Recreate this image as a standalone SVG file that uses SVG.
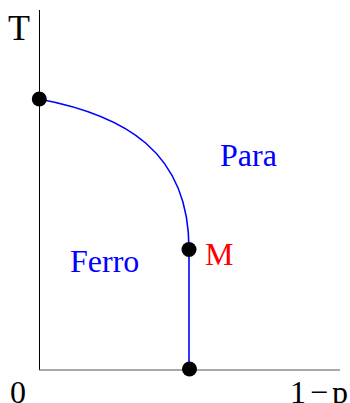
<svg xmlns="http://www.w3.org/2000/svg" width="350" height="403" viewBox="0 0 350 403">
<style>
.lbl{font-family:"Liberation Serif","Times New Roman",serif;font-size:32px;}
.blue{fill:#0000ff;}
.red{fill:#ff0000;}
.dot{fill:#000;}
.axis{stroke:#000;stroke-width:1;fill:none;}
.haxis{stroke:#555;stroke-width:1.2;fill:none;}
.phase{stroke:#0000ff;stroke-width:1.6;fill:none;}
</style>
<rect width="350" height="403" fill="#fff"/>
<g id="axes">
<line class="axis" x1="39.5" y1="10" x2="39.5" y2="370"/>
<line class="haxis" x1="39" y1="370" x2="340" y2="370"/>
</g>
<g id="connectors">
<path class="phase" d="M39,99 C124,115 189,151 189,249"/>
<line class="phase" x1="189" y1="249" x2="189" y2="369"/>
</g>
<g id="node-tc"><circle class="dot" cx="39.3" cy="99" r="7.5"/></g>
<g id="node-m"><circle class="dot" cx="189" cy="249.5" r="7.5"/><text class="lbl red" x="205" y="264.5">M</text></g>
<g id="node-pc"><circle class="dot" cx="189.5" cy="369" r="7.5"/></g>
<g id="labels">
<text class="lbl" x="8" y="39.5" style="font-size:36px">T</text>
<text class="lbl blue" x="220" y="166">Para</text>
<text class="lbl blue" x="70" y="272">Ferro</text>
<text class="lbl" x="10" y="403">0</text>
<text class="lbl" x="290" y="403">1<tspan dx="4">−</tspan><tspan dx="4">p</tspan></text>
</g>
</svg>
